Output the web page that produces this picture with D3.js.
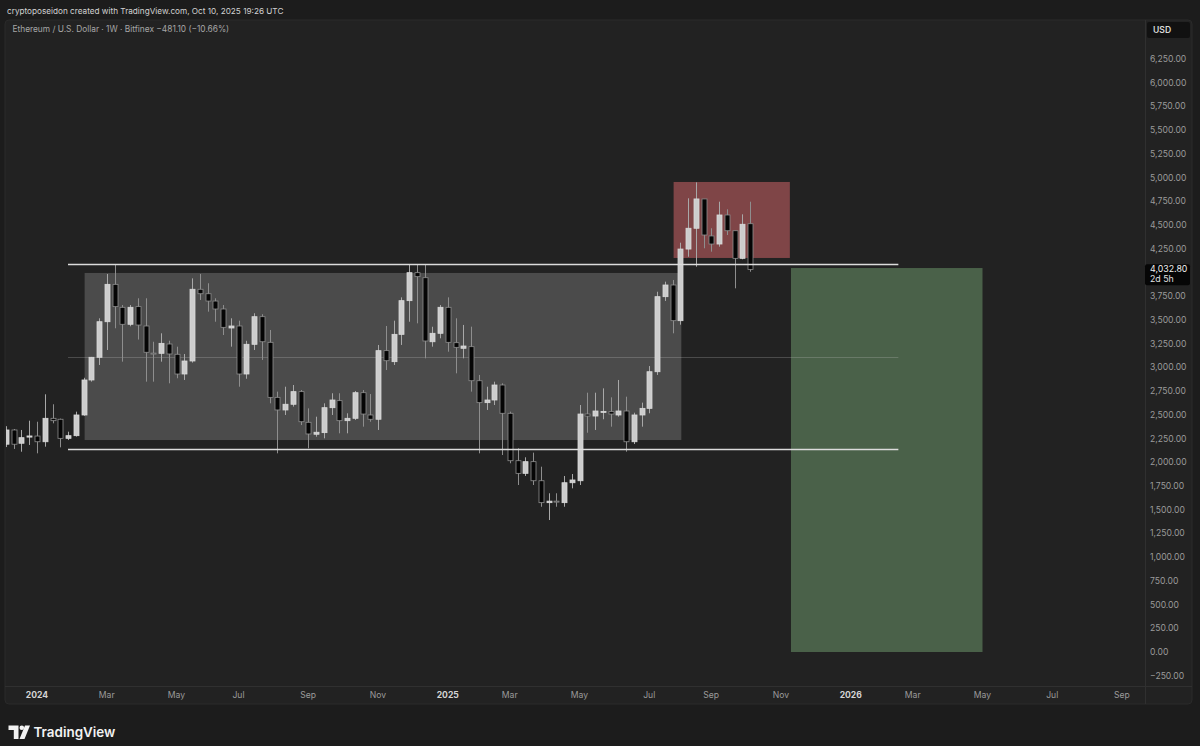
<!DOCTYPE html>
<html><head><meta charset="utf-8">
<script src="https://cdn.jsdelivr.net/npm/d3@7"></script>
<style>
html,body{margin:0;padding:0;background:#1c1c1c;}
svg{display:block;font-family:Inter,"Noto Sans",sans-serif;}
</style></head><body>
<svg id="c" width="1200" height="746"></svg>
<script>
// ---------- DATA ----------
const firstWeek = "2023-12-04";
const lastWeek = "2025-10-06";
const opens  = [2190,2340,2200,2265,2276,2216,2463,2453,2252,2280,2498,2867,3106,3481,3875,3633,3454,3640,3436,3150,3148,3246,3138,2930,3067,3823,3776,3699,3615,3415,3436,2930,3243,3534,3264,2684,2551,2611,2744,2421,2295,2312,2575,2649,2438,2463,2733,2498,2453,3176,3060,3348,3703,3998,3945,3270,3359,3633,3260,3201,3218,2859,2628,2656,2814,2516,2016,1883,2006,1805,1574,1590,1574,1784,1805,2508,2487,2533,2533,2498,2540,2216,2498,2568,2954,3745,3868,3492,4247,4466,4775,4385,4300,4606,4440,4149,4513.9];
const highs  = [2380,2350,2340,2438,2427,2716,2611,2460,2322,2533,2890,3110,3517,3984,4079,3657,3657,3728,3728,3270,3359,3281,3218,3141,3938,3984,3886,3728,3657,3517,3492,3280,3570,3560,3394,2744,2796,2814,2761,2568,2480,2621,2727,2727,2516,2751,2761,2719,3236,3436,3492,3738,4089,4079,4079,3428,3657,3738,3517,3447,3429,2920,2796,2849,2832,2533,2147,2052,2101,1953,1673,1673,1855,1876,2603,2733,2733,2779,2684,2867,2691,2522,2628,3014,3797,3903,3921,4314,4782,4950,4775,4466,4746,4666,4440,4613,4746];
const lows   = [2160,2140,2111,2182,2094,2164,2410,2157,2234,2270,2490,2849,3025,3183,3412,3060,3433,3293,2849,2849,3060,2832,2885,2867,3050,3710,3587,3481,3341,3218,2796,2880,3183,3078,2621,2094,2498,2586,2392,2147,2269,2252,2498,2305,2305,2445,2375,2427,2340,2972,3025,3236,3481,3464,3095,3218,3306,3165,2937,3095,2744,2094,2551,2603,2076,1989,1760,1855,1760,1531,1391,1531,1531,1725,1760,2311,2340,2453,2375,2480,2111,2192,2375,2516,2920,3700,3359,3450,4166,4061,4255,4219,4272,4395,3833,4139,4008];
const closes = [2340,2190,2259,2277,2216,2463,2438,2252,2280,2498,2867,3106,3481,3875,3640,3454,3633,3446,3159,3141,3253,3141,2930,3067,3823,3776,3699,3615,3422,3436,2930,3243,3534,3270,2684,2551,2611,2744,2427,2298,2316,2575,2656,2438,2463,2733,2508,2453,3176,3070,3348,3703,3998,3956,3278,3359,3633,3264,3211,3225,2859,2628,2656,2814,2516,2016,1883,2006,1805,1574,1590,1585,1784,1813,2508,2487,2540,2536,2508,2540,2216,2498,2568,2954,3745,3868,3492,4247,4466,4775,4395,4300,4606,4440,4149,4508,4032.8];

const priceTicks = [-250,0,250,500,750,1000,1250,1500,1750,2000,2250,2500,2750,3000,3250,3500,3750,4000,4250,4500,4750,5000,5250,5500,5750,6000,6250];
const timeTickDates  = ["2024-01-01","2024-03-04","2024-05-06","2024-07-01","2024-09-02","2024-11-04","2025-01-06","2025-03-03","2025-05-05","2025-07-07","2025-09-01","2025-11-03","2026-01-05","2026-03-02","2026-05-04","2026-07-06","2026-09-07"];
const timeTickLabels = ["2024","Mar","May","Jul","Sep","Nov","2025","Mar","May","Jul","Sep","Nov","2026","Mar","May","Jul","Sep"];
const yearTicks = ["2024","2025","2026"];

// zones: [startDate, endDate, topPrice, bottomPrice]
const rangeBox = ["2024-02-13","2025-08-05",3995,2234];
const sellBox  = ["2025-07-29","2025-11-11",4954,4153];
const buyBox   = ["2025-11-12","2026-05-04",4047,0];
// horizontal levels: [startDate, endDate, price]
const rangeHigh = ["2024-01-29","2026-02-17",4086];
const rangeLow  = ["2024-01-29","2026-02-17",2136];
const rangeMid  = ["2024-01-29","2026-02-17",3111];

const lastPrice = 4032.8;
const countdown = "2d 5h";
const headerText = "cryptoposeidon created with TradingView.com, Oct 10, 2025 19:26 UTC";
const legendText = "Ethereum / U.S. Dollar · 1W · Bitfinex  −481.10 (−10.66%)";

// ---------- DRAW ----------
const svg = d3.select("#c");
const pane = {x0:5, y0:20, x1:1192, y1:704, plotR:1145, axisT:686};
const x = d3.scaleUtc().domain([new Date("2024-01-01"), new Date("2026-01-05")]).range([37, 850.75]);
const y = d3.scaleLinear().domain([0, 6250]).range([652, 59]);

const weeks = d3.utcMonday.range(new Date(firstWeek), d3.utcDay.offset(new Date(lastWeek),1));
const candles = weeks.map((d,i)=>({d, o:opens[i], h:highs[i], l:lows[i], c:closes[i]}));

// panel
svg.append("rect").attr("x",pane.x0).attr("y",pane.y0).attr("width",pane.x1-pane.x0).attr("height",pane.y1-pane.y0)
  .attr("rx",4).attr("fill","#222222").attr("stroke","#2a2a2a");
svg.append("line").attr("x1",pane.plotR+0.5).attr("x2",pane.plotR+0.5).attr("y1",pane.y0).attr("y2",pane.y1).attr("stroke","#303030");
svg.append("line").attr("x1",pane.x0).attr("x2",pane.x1).attr("y1",pane.axisT+0.5).attr("y2",pane.axisT+0.5).attr("stroke","#303030");

svg.append("clipPath").attr("id","plot").append("rect")
  .attr("x",pane.x0+1).attr("y",pane.y0+1).attr("width",pane.plotR-pane.x0-1).attr("height",pane.axisT-pane.y0-1);
const g = svg.append("g").attr("clip-path","url(#plot)");

function box(b, fill){
  g.append("rect").attr("x",x(new Date(b[0]))).attr("width",x(new Date(b[1]))-x(new Date(b[0])))
   .attr("y",y(b[2])).attr("height",y(b[3])-y(b[2])).attr("fill",fill);
}
box(rangeBox,"#4b4b4b");
box(sellBox,"#7f4547");
box(buyBox,"#4a6149");

function level(l, stroke, w){
  g.append("line").attr("x1",x(new Date(l[0]))).attr("x2",x(new Date(l[1])))
   .attr("y1",Math.round(y(l[2]))+0.5).attr("y2",Math.round(y(l[2]))+0.5).attr("stroke",stroke).attr("stroke-width",w);
}
level(rangeMid,"rgba(200,200,200,0.25)",1);

// candles
const cg = g.append("g");
candles.forEach(k=>{
  const cx = Math.round(x(k.d))+0.5;
  const up = k.c >= k.o;
  cg.append("line").attr("x1",cx).attr("x2",cx).attr("y1",y(k.h)).attr("y2",y(k.l))
    .attr("stroke", up ? "#a8a8a8" : "#8e8e8e").attr("stroke-width",1);
  const top = y(Math.max(k.o,k.c)), bot = y(Math.min(k.o,k.c));
  cg.append("rect").attr("x",cx-2.5).attr("width",5).attr("y",top).attr("height",Math.max(1,bot-top))
    .attr("fill", up ? "#cdcdcd" : "#050505").attr("stroke", up ? "#dadada" : "#8e8e8e").attr("stroke-width",0.8);
});

level(rangeHigh,"#dcdcdc",1.3);
level(rangeLow,"#dcdcdc",1.3);

// price axis (labels hidden where the last-price label covers them)
const yl = y(lastPrice);
const ax = svg.append("g");
priceTicks.filter(p=>Math.abs(y(p)-(yl+5))>14).forEach(p=>{
  ax.append("text").attr("x",1150).attr("y",y(p)).attr("dy","0.35em").attr("font-size",8.6)
    .attr("fill","#9b9b9b").text(d3.format(",.2f")(p));
});
// USD box
svg.append("rect").attr("x",1147).attr("y",22).attr("width",43).attr("height",16).attr("rx",2).attr("fill","#111111");
svg.append("text").attr("x",1153).attr("y",30).attr("dy","0.35em").attr("font-size",8.6).attr("font-weight",600).attr("fill","#d8d8d8").text("USD");
// last price label
svg.append("rect").attr("x",1145).attr("y",yl-5).attr("width",45).attr("height",21).attr("rx",2).attr("fill","#060606");
svg.append("text").attr("x",1150).attr("y",yl).attr("dy","0.35em").attr("font-size",8.8).attr("fill","#f0f0f0").text(d3.format(",.2f")(lastPrice));
svg.append("text").attr("x",1150).attr("y",yl+10).attr("dy","0.35em").attr("font-size",8.8).attr("fill","#e0e0e0").text(countdown);

// time axis
timeTickDates.forEach((d,i)=>{
  const lab = timeTickLabels[i];
  const yr = yearTicks.includes(lab);
  svg.append("text").attr("x",x(new Date(d))).attr("y",695).attr("dy","0.35em").attr("text-anchor","middle")
    .attr("font-size",8.6).attr("font-weight",yr?700:400).attr("fill",yr?"#d4d4d4":"#9b9b9b").text(lab);
});

// header
function fit(t,w){const L=t.node().getComputedTextLength();t.attr("font-size",parseFloat(t.attr("font-size"))*w/L);return t;}
fit(svg.append("text").attr("x",7).attr("y",11).attr("dy","0.35em").attr("font-size",9).attr("fill","#d2d2d2").text(headerText),277);
fit(svg.append("text").attr("x",12.5).attr("y",29).attr("dy","0.35em").attr("font-size",9).attr("fill","#a6a6a6").text(legendText),217);

// logo
const lg = svg.append("g").attr("fill","#f2f2f2");
lg.append("path").attr("d","M8.5,725.5 H18.5 V739 H13.8 V730 H8.5 Z");
lg.append("circle").attr("cx",21.8).attr("cy",727.8).attr("r",2.3);
lg.append("path").attr("d","M25,725.5 H30 L24.5,739 H19.5 Z");
fit(lg.append("text").attr("x",33.5).attr("y",732.5).attr("dy","0.35em").attr("font-size",16).attr("font-weight",600).text("TradingView"),82);
</script>
</body></html>
